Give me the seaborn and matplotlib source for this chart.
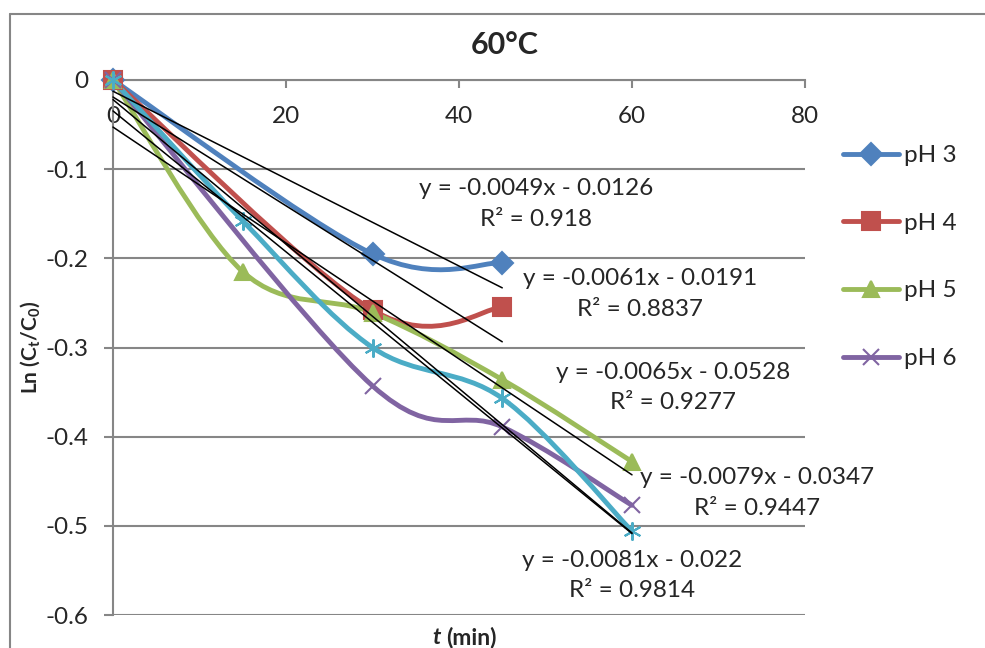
import numpy as np
import pandas as pd
import matplotlib
matplotlib.use("Agg")
import matplotlib.pyplot as plt
from matplotlib.path import Path
from matplotlib.patches import PathPatch
from matplotlib.lines import Line2D
import seaborn as sns

# ---------------- data ----------------
title = "60°C"
series_names = ["pH 3", "pH 4", "pH 5", "pH 6", "pH 7"]
in_legend = [True, True, True, True, False]

x_ph3 = [0, 30, 45]
y_ph3 = [0.0, -0.195, -0.205]
x_ph4 = [0, 30, 45]
y_ph4 = [0.0, -0.258, -0.255]
x_ph5 = [0, 15, 30, 45, 60]
y_ph5 = [0.0, -0.215, -0.261, -0.336, -0.428]
x_ph6 = [0, 30, 45, 60]
y_ph6 = [0.0, -0.343, -0.389, -0.477]
x_ph7 = [0, 15, 30, 45, 60]
y_ph7 = [0.0, -0.158, -0.300, -0.357, -0.506]

# trendline coefficients (as printed on chart)
slopes = [-0.0049, -0.0061, -0.0065, -0.0079, -0.0081]
intercepts = [-0.0126, -0.0191, -0.0528, -0.0347, -0.022]
eq_labels = ["y = -0.0049x - 0.0126\nR² = 0.918",
             "y = -0.0061x - 0.0191\nR² = 0.8837",
             "y = -0.0065x - 0.0528\nR² = 0.9277",
             "y = -0.0079x - 0.0347\nR² = 0.9447",
             "y = -0.0081x - 0.022\nR² = 0.9814"]
# series whose trendline each label belongs to (pH3, pH4, pH5, pH6, pH7)
eq_series = [0, 1, 2, 3, 4]

x_ticks = [0, 20, 40, 60, 80]
x_tick_labels = ["0", "20", "40", "60", "80"]
y_ticks = [0, -0.1, -0.2, -0.3, -0.4, -0.5, -0.6]
y_tick_labels = ["0", "-0.1", "-0.2", "-0.3", "-0.4", "-0.5", "-0.6"]

# ---------------- styles ----------------
colors = ["#4F81BD", "#C0504D", "#9BBB59", "#8064A2", "#4BACC6"]
markers = ["D", "s", "^", "x", (6, 2, 0)]
msizes = [11, 12.5, 11, 12, 13]
eq_pos = [(48.9, -0.139), (60.9, -0.240), (64.7, -0.345), (74.5, -0.463), (60.0, -0.556)]

sns.set_style("white")
plt.rcParams["font.family"] = ["Lato", "DejaVu Sans"]
plt.rcParams["axes.unicode_minus"] = False
plt.rcParams["mathtext.fontset"] = "custom"
plt.rcParams["mathtext.rm"] = "Lato"
plt.rcParams["mathtext.bf"] = "Lato:bold"
plt.rcParams["mathtext.it"] = "Lato:italic"

W, H = 985, 648
fig = plt.figure(figsize=(W / 100, H / 100), dpi=100)
fig.patch.set_facecolor("white")
L, R, T, B = 113, 805, 80, 615
ax = fig.add_axes([L / W, 1 - B / H, (R - L) / W, (B - T) / H])

gray = "#868686"
FS = 17.5

xs_all = [x_ph3, x_ph4, x_ph5, x_ph6, x_ph7]
ys_all = [y_ph3, y_ph4, y_ph5, y_ph6, y_ph7]


def smooth_path(xs, ys):
    pts = np.column_stack([xs, ys]).astype(float)
    n = len(pts)
    verts = [pts[0]]
    codes = [Path.MOVETO]
    for i in range(n - 1):
        p0 = pts[i - 1] if i > 0 else pts[i]
        p1 = pts[i]
        p2 = pts[i + 1]
        p3 = pts[i + 2] if i + 2 < n else pts[i + 1]
        c1 = p1 + (p2 - p0) / 6.0
        c2 = p2 - (p3 - p1) / 6.0
        verts += [c1, c2, p2]
        codes += [Path.CURVE4] * 3
    return Path(np.array(verts), codes)


for i, (xs, ys) in enumerate(zip(xs_all, ys_all)):
    patch = PathPatch(smooth_path(xs, ys), facecolor="none", edgecolor=colors[i],
                      lw=3.5, capstyle="round", joinstyle="round", zorder=3, clip_on=False)
    ax.add_patch(patch)

for i, (xs, ys) in enumerate(zip(xs_all, ys_all)):
    df = pd.DataFrame({"x": xs, "y": ys})
    m = markers[i]
    filled = m in ("D", "s", "^")
    sns.lineplot(data=df, x="x", y="y", ax=ax, linestyle="", marker=m,
                 markersize=msizes[i], color=colors[i],
                 markeredgecolor=colors[i], markerfacecolor=colors[i] if filled else "none",
                 markeredgewidth=1.5, zorder=4, clip_on=False, legend=False)

# trendlines
for k, s in enumerate(eq_series):
    xs = xs_all[s]
    xx = np.array([min(xs), max(xs)], dtype=float)
    ax.plot(xx, slopes[k] * xx + intercepts[k], color="black", lw=1.1, zorder=5, clip_on=False)
    ax.text(eq_pos[k][0], eq_pos[k][1], eq_labels[k], ha="center", va="center",
            fontsize=FS, linespacing=1.55, zorder=6, multialignment="center")

ax.set_xlim(0, 80)
ax.set_ylim(-0.6, 0)
ax.set_xticks(x_ticks)
ax.set_xticklabels(x_tick_labels)
ax.set_yticks(y_ticks)
ax.set_yticklabels(y_tick_labels)
ax.spines["bottom"].set_position(("data", 0))
ax.spines["top"].set_visible(False)
ax.spines["right"].set_visible(False)
for sp in ("bottom", "left"):
    ax.spines[sp].set_color(gray)
    ax.spines[sp].set_linewidth(1.5)
ax.yaxis.grid(True, color=gray, lw=1.5)
ax.xaxis.grid(False)
ax.set_axisbelow(True)
ax.tick_params(axis="x", direction="out", length=6, width=1.5, color=gray,
               labelsize=FS, pad=13, bottom=True)
ax.tick_params(axis="y", direction="out", length=6.5, width=1.5, color=gray,
               labelsize=FS, pad=11, left=True)
ax.set_xlabel("")
ax.set_ylabel(r"Ln (C$_\mathbf{t}$/C$_\mathbf{0}$)", fontsize=15, fontweight="bold", va="center")
ax.yaxis.set_label_coords((30 - L) / (R - L), 0.5)

# title
fig.text(505 / W, 1 - 45 / H, title, ha="center", va="center", fontsize=22, fontweight="bold")

# x label
fig.text(441 / W, 1 - 637 / H, "t", ha="right", va="center", fontsize=16.5,
         fontweight="bold", fontstyle="italic")
fig.text(446 / W, 1 - 637 / H, "(min)", ha="left", va="center", fontsize=16.5, fontweight="bold")

# legend
handles = [Line2D([0], [0], color=colors[i], lw=3.5, marker=markers[i],
                  markersize=msizes[i], markeredgecolor=colors[i],
                  markerfacecolor=colors[i] if markers[i] in ("D", "s", "^") else "none",
                  markeredgewidth=1.5)
           for i in range(len(series_names)) if in_legend[i]]
labels = [series_names[i] for i in range(len(series_names)) if in_legend[i]]
fig.legend(handles, labels, loc="upper left", bbox_to_anchor=(843 / W, 1 - 145 / H),
           frameon=False, fontsize=FS, handlelength=2.3, handletextpad=0.2,
           labelspacing=1.92, borderpad=0, borderaxespad=0)

# chart border
fig.add_artist(Line2D([10 / W, 10 / W], [0, 1 - 14 / H], transform=fig.transFigure,
                      color=gray, lw=1.5))
fig.add_artist(Line2D([10 / W, 1], [1 - 14 / H, 1 - 14 / H], transform=fig.transFigure,
                      color=gray, lw=1.5))

fig.savefig("out.png", dpi=100)
